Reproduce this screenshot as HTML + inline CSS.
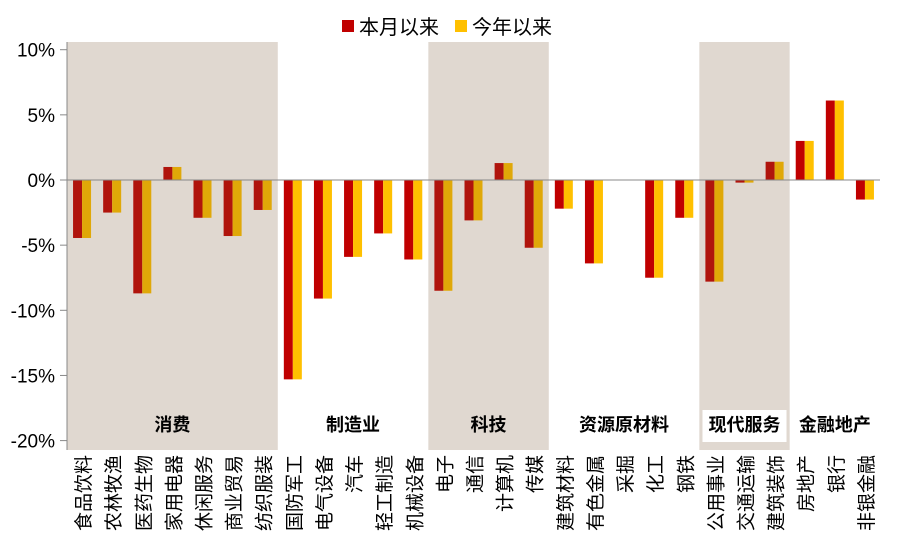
<!DOCTYPE html>
<html><head><meta charset="utf-8"><style>
body{margin:0;background:#fff;font-family:"Liberation Sans","Noto Sans CJK SC",sans-serif}
svg text{font-family:"Liberation Sans","Noto Sans CJK SC",sans-serif}
</style></head><body>
<svg id="c" width="901" height="545"></svg>
<script>
const categories=["食品饮料","农林牧渔","医药生物","家用电器","休闲服务","商业贸易","纺织服装","国防军工","电气设备","汽车","轻工制造","机械设备","电子","通信","计算机","传媒","建筑材料","有色金属","采掘","化工","钢铁","公用事业","交通运输","建筑装饰","房地产","银行","非银金融"];
const monthValues=[-4.45,-2.5,-8.7,1.0,-2.9,-4.3,-2.3,-15.3,-9.1,-5.9,-4.1,-6.1,-8.5,-3.1,1.3,-5.2,-2.2,-6.4,0,-7.5,-2.9,-7.8,-0.2,1.4,3.0,6.1,-1.5];
const yearValues=[-4.45,-2.5,-8.7,1.0,-2.9,-4.3,-2.3,-15.3,-9.1,-5.9,-4.1,-6.1,-8.5,-3.1,1.3,-5.2,-2.2,-6.4,0,-7.5,-2.9,-7.8,-0.2,1.4,3.0,6.1,-1.5];
const yTicks=[10,5,0,-5,-10,-15,-20];
const groupNames=["消费","制造业","科技","资源原材料","现代服务","金融地产"];
const groupStart=[0,7,12,16,21,24];
const groupEnd=[7,12,16,21,24,27];
const groupShaded=[true,false,true,false,true,false];

const svg=document.getElementById('c');const NS="http://www.w3.org/2000/svg";
function mk(t,a,p){const e=document.createElementNS(NS,t);for(const k in a)e.setAttribute(k,a[k]);(p||svg).appendChild(e);return e;}
const X0=67,X1=880,bw=(X1-X0)/categories.length;
const y=v=>180-(v)*13.03;
const xc=i=>X0+(i+0.5)*bw;
function inShade(i){for(let g=0;g<groupNames.length;g++)if(i>=groupStart[g]&&i<groupEnd[g])return groupShaded[g];return false;}
for(let g=0;g<groupNames.length;g++){if(!groupShaded[g])continue;
 const r=mk('rect',{x:X0+groupStart[g]*bw,y:42,width:(groupEnd[g]-groupStart[g])*bw,height:408,fill:'#e0d8d0'});
 }
categories.forEach((c,i)=>{const s=inShade(i);
 [[monthValues[i],s?'#b0140c':'#c00000',-9],[yearValues[i],s?'#e0a808':'#ffc000',0]].forEach((d,k)=>{
  const v=d[0];const r=mk('rect',{x:xc(i)+d[2],y:Math.min(y(v),y(0)),width:9,height:Math.abs(y(v)-y(0)),fill:d[1]});
  });
 const t=mk('text',{x:0,y:0,'font-size':19,fill:'#000','text-anchor':'end',transform:`translate(${xc(i)+8},455) rotate(-90)`});
 t.textContent=c;
});
let a=mk('line',{x1:X0,y1:42,x2:X0,y2:450,stroke:'#888','stroke-width':1});
a=mk('line',{x1:X0,y1:y(0),x2:X1,y2:y(0),stroke:'#888','stroke-width':1});
yTicks.forEach(v=>{mk('line',{x1:X0-7,y1:y(v),x2:X0,y2:y(v),stroke:'#888'});
 const t=mk('text',{x:X0-12,y:y(v)+7,'font-size':19,'text-anchor':'end',fill:'#000'});t.textContent=v+'%';
 });
groupNames.forEach((n,g)=>{const cx=X0+(groupStart[g]+groupEnd[g])/2*bw;
 if(g>=4){mk('rect',{x:cx-n.length*9-6,y:410,width:n.length*18+12,height:32,fill:'#fff'});}
 const t=mk('text',{x:cx,y:431,'font-size':18,'font-weight':'bold','text-anchor':'middle',fill:'#000'});t.textContent=n;
 });
[[342,'#c00000','本月以来'],[455,'#ffc000','今年以来']].forEach((l,k)=>{
 const r=mk('rect',{x:l[0],y:20,width:12,height:12,fill:l[1]});
 const t=mk('text',{x:l[0]+17,y:34,'font-size':20,fill:'#000'});t.textContent=l[2];});
</script>
</body></html>
